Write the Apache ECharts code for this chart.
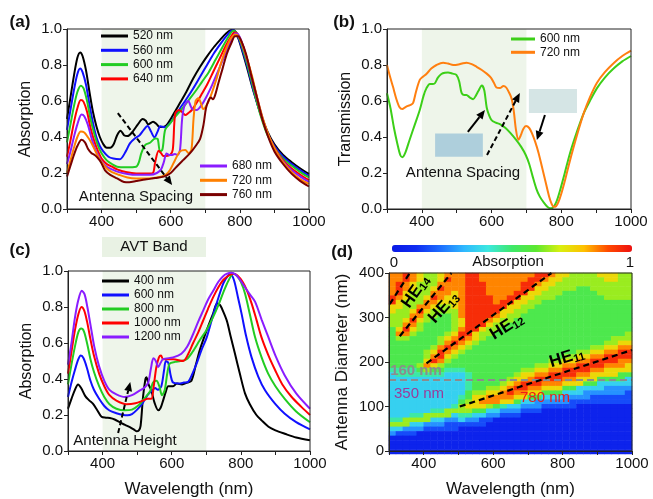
<!DOCTYPE html>
<html><head><meta charset="utf-8">
<script src="https://cdn.jsdelivr.net/npm/echarts/dist/echarts.min.js"></script>
<style>html,body{margin:0;padding:0;background:#fff}#c{width:653px;height:499px}</style>
</head><body><div id="c"></div>
<script>
const FONT = "'Liberation Sans', Arial, Helvetica, sans-serif";

// ---------- Panel (a): absorption vs wavelength for antenna spacing ----------
const aLabels = ['520 nm','560 nm','600 nm','640 nm','680 nm','720 nm','760 nm'];
const aColors = ['#000000','#1010ff','#22cc22','#ff0000','#8a1cff','#ff8000','#7a0000'];
const a520 = [[300,0.50],[310,0.62],[320,0.74],[330,0.84],[338,0.87],[345,0.85],[355,0.77],[365,0.65],[375,0.54],[385,0.46],[395,0.40],[405,0.36],[415,0.34],[425,0.34],[435,0.36],[445,0.41],[455,0.435],[465,0.41],[475,0.405],[490,0.43],[505,0.47],[519,0.50],[528,0.49],[535,0.47],[549,0.485],[560,0.47],[568,0.455],[578,0.455],[588,0.465],[600,0.50],[615,0.55],[627,0.59],[645,0.65],[665,0.725],[685,0.79],[704,0.845],[725,0.9],[743,0.94],[760,0.975],[776,0.995],[785,0.99],[795,0.95],[805,0.89],[820,0.79],[840,0.65],[860,0.53],[880,0.43],[900,0.36],[925,0.30],[950,0.26],[975,0.225],[1000,0.195]];
const a560 = [[300,0.44],[310,0.55],[320,0.66],[330,0.75],[338,0.78],[345,0.76],[355,0.69],[365,0.58],[375,0.48],[385,0.40],[395,0.35],[405,0.32],[420,0.29],[434,0.28],[453,0.277],[470,0.32],[482,0.365],[497,0.393],[510,0.41],[522,0.44],[533,0.461],[543,0.43],[553,0.398],[562,0.43],[570,0.46],[584,0.454],[595,0.47],[610,0.51],[627,0.56],[645,0.61],[665,0.67],[685,0.735],[705,0.80],[725,0.865],[745,0.92],[765,0.97],[779,0.995],[788,0.985],[798,0.94],[808,0.88],[822,0.79],[840,0.655],[860,0.525],[880,0.42],[900,0.35],[925,0.29],[950,0.25],[975,0.215],[1000,0.185]];
const a600 = [[300,0.37],[310,0.47],[320,0.57],[330,0.65],[340,0.685],[348,0.67],[358,0.6],[368,0.5],[380,0.41],[390,0.35],[400,0.31],[415,0.27],[430,0.25],[445,0.235],[472,0.232],[500,0.235],[508,0.26],[515,0.31],[526,0.355],[540,0.368],[555,0.392],[562,0.39],[569,0.32],[576,0.33],[584,0.44],[598,0.476],[612,0.51],[630,0.55],[650,0.6],[670,0.65],[690,0.705],[710,0.76],[730,0.83],[750,0.9],[768,0.96],[781,0.99],[790,0.98],[800,0.94],[812,0.87],[825,0.78],[842,0.65],[860,0.52],[880,0.41],[900,0.34],[925,0.28],[950,0.24],[975,0.205],[1000,0.175]];
const a640 = [[300,0.29],[310,0.38],[320,0.48],[330,0.56],[340,0.605],[348,0.595],[358,0.54],[368,0.45],[380,0.37],[390,0.32],[400,0.28],[415,0.25],[430,0.235],[445,0.22],[470,0.205],[500,0.197],[530,0.197],[548,0.2],[555,0.26],[565,0.324],[572,0.31],[579,0.294],[598,0.3],[606,0.33],[613,0.53],[624,0.55],[632,0.54],[642,0.522],[652,0.535],[661,0.55],[675,0.59],[690,0.64],[705,0.69],[720,0.75],[740,0.83],[760,0.91],[775,0.96],[784,0.98],[792,0.975],[802,0.94],[815,0.87],[828,0.78],[845,0.65],[862,0.52],[880,0.42],[900,0.34],[925,0.27],[950,0.225],[975,0.19],[1000,0.16]];
const a680 = [[300,0.25],[310,0.32],[320,0.40],[330,0.47],[342,0.525],[350,0.515],[360,0.47],[370,0.40],[380,0.34],[390,0.3],[400,0.265],[415,0.235],[430,0.22],[450,0.205],[475,0.195],[500,0.19],[540,0.19],[560,0.2],[572,0.22],[580,0.26],[588,0.309],[596,0.3],[603,0.3],[612,0.305],[620,0.3],[627,0.33],[633,0.5],[640,0.575],[651,0.6],[657,0.575],[663,0.554],[675,0.55],[690,0.58],[705,0.63],[720,0.69],[740,0.78],[760,0.87],[775,0.935],[787,0.975],[795,0.97],[805,0.93],[818,0.85],[832,0.75],[848,0.63],[865,0.51],[882,0.41],[900,0.335],[925,0.265],[950,0.215],[975,0.18],[1000,0.15]];
const a720 = [[300,0.2],[310,0.27],[320,0.34],[330,0.40],[340,0.43],[350,0.425],[360,0.4],[370,0.37],[380,0.33],[390,0.29],[400,0.26],[415,0.225],[430,0.205],[450,0.19],[475,0.175],[500,0.17],[530,0.17],[560,0.175],[585,0.19],[598,0.217],[612,0.27],[627,0.32],[642,0.328],[652,0.31],[660,0.33],[666,0.5],[672,0.6],[680,0.615],[687,0.59],[694,0.555],[705,0.58],[718,0.64],[732,0.72],[747,0.82],[762,0.9],[775,0.95],[788,0.97],[796,0.96],[806,0.92],[820,0.84],[835,0.74],[850,0.62],[867,0.5],[885,0.4],[905,0.32],[925,0.26],[950,0.205],[975,0.165],[1000,0.14]];
const a760 = [[300,0.18],[310,0.24],[320,0.3],[330,0.35],[342,0.385],[352,0.37],[362,0.33],[371,0.31],[380,0.3],[388,0.285],[398,0.26],[410,0.215],[425,0.19],[445,0.17],[465,0.15],[480,0.148],[500,0.155],[530,0.165],[555,0.172],[580,0.18],[600,0.2],[617,0.235],[635,0.27],[656,0.31],[672,0.35],[685,0.39],[695,0.47],[702,0.56],[710,0.605],[716,0.62],[722,0.61],[728,0.63],[738,0.7],[750,0.78],[762,0.86],[775,0.92],[786,0.96],[795,0.96],[805,0.93],[818,0.86],[832,0.75],[848,0.63],[865,0.5],[882,0.4],[900,0.32],[925,0.25],[950,0.195],[975,0.155],[1000,0.125]];

// ---------- Panel (b): transmission ----------
const bLabels = ['600 nm','720 nm'];
const bColors = ['#3ccf18','#ff7f10'];
const b600 = [[300,0.643],[310,0.56],[320,0.45],[330,0.36],[338,0.30],[344,0.288],[352,0.31],[365,0.385],[380,0.47],[394,0.55],[405,0.63],[413,0.67],[423,0.695],[432,0.695],[438,0.70],[446,0.73],[456,0.75],[466,0.757],[475,0.758],[488,0.752],[499,0.745],[507,0.71],[514,0.645],[521,0.634],[528,0.634],[537,0.62],[547,0.61],[555,0.63],[562,0.655],[572,0.686],[579,0.66],[586,0.564],[593,0.52],[600,0.494],[612,0.48],[625,0.47],[640,0.45],[655,0.42],[670,0.385],[685,0.345],[698,0.3],[708,0.25],[718,0.18],[728,0.115],[738,0.07],[750,0.035],[760,0.012],[768,0.004],[775,0.006],[785,0.035],[797,0.107],[810,0.2],[825,0.31],[845,0.43],[864,0.53],[882,0.6],[902,0.67],[925,0.73],[950,0.78],[975,0.82],[1000,0.85]];
const b720 = [[300,0.80],[308,0.74],[317,0.68],[327,0.61],[336,0.565],[344,0.555],[352,0.565],[360,0.573],[368,0.578],[375,0.59],[383,0.65],[394,0.717],[403,0.735],[413,0.75],[427,0.78],[442,0.80],[461,0.813],[475,0.808],[490,0.80],[505,0.803],[518,0.81],[528,0.813],[543,0.805],[557,0.79],[572,0.772],[586,0.752],[598,0.73],[607,0.7],[614,0.675],[624,0.672],[634,0.684],[642,0.675],[652,0.64],[658,0.61],[664,0.54],[670,0.44],[677,0.385],[684,0.41],[691,0.445],[699,0.461],[708,0.45],[716,0.42],[725,0.374],[735,0.31],[745,0.23],[755,0.15],[765,0.07],[772,0.03],[778,0.012],[785,0.015],[792,0.04],[800,0.085],[812,0.17],[825,0.27],[845,0.41],[864,0.53],[882,0.62],[902,0.7],[925,0.76],[950,0.81],[975,0.85],[1000,0.88]];

// ---------- Panel (c): absorption vs antenna height ----------
const cLabels = ['400 nm','600 nm','800 nm','1000 nm','1200 nm'];
const cColors = ['#000000','#1010ff','#22cc22','#ff0000','#8a1cff'];
const c400 = [[300,0.235],[310,0.29],[320,0.34],[329,0.37],[338,0.35],[350,0.305],[362,0.28],[372,0.263],[385,0.225],[397,0.19],[410,0.185],[421,0.183],[435,0.175],[450,0.16],[465,0.145],[479,0.133],[490,0.12],[498,0.11],[505,0.115],[510,0.14],[517,0.3],[524,0.4],[527,0.41],[533,0.37],[541,0.337],[550,0.27],[561,0.226],[568,0.24],[575,0.28],[583,0.33],[590,0.36],[604,0.36],[615,0.375],[630,0.37],[645,0.38],[657,0.39],[670,0.48],[681,0.56],[701,0.67],[720,0.765],[731,0.82],[740,0.81],[750,0.77],[760,0.72],[770,0.64],[783,0.54],[797,0.43],[812,0.32],[826,0.26],[845,0.2],[860,0.17],[880,0.135],[900,0.115],[927,0.096],[960,0.075],[1000,0.06]];
const c600 = [[300,0.30],[310,0.38],[320,0.45],[330,0.51],[337,0.53],[345,0.515],[355,0.46],[365,0.39],[375,0.34],[390,0.29],[405,0.25],[420,0.225],[440,0.21],[460,0.2],[472,0.198],[485,0.205],[500,0.23],[515,0.263],[530,0.31],[545,0.34],[552,0.35],[560,0.34],[570,0.36],[578,0.45],[583,0.50],[590,0.49],[597,0.42],[604,0.38],[620,0.375],[635,0.38],[648,0.385],[660,0.43],[672,0.485],[686,0.56],[701,0.63],[716,0.73],[730,0.82],[749,0.93],[763,0.975],[770,0.98],[780,0.95],[792,0.85],[802,0.763],[815,0.64],[831,0.52],[850,0.415],[870,0.337],[900,0.26],[927,0.207],[960,0.16],[1000,0.12]];
const c800 = [[300,0.37],[310,0.48],[320,0.58],[330,0.66],[338,0.68],[346,0.665],[355,0.6],[365,0.51],[375,0.44],[390,0.36],[405,0.3],[420,0.26],[440,0.235],[464,0.226],[485,0.23],[505,0.255],[520,0.29],[537,0.33],[546,0.38],[556,0.39],[564,0.36],[572,0.31],[580,0.34],[587,0.43],[594,0.485],[610,0.495],[625,0.5],[643,0.51],[660,0.55],[681,0.615],[700,0.67],[720,0.745],[735,0.81],[749,0.88],[765,0.95],[778,0.985],[788,0.975],[800,0.94],[812,0.875],[826,0.76],[841,0.633],[860,0.52],[879,0.43],[900,0.36],[927,0.29],[960,0.22],[1000,0.16]];
const c1000 = [[300,0.43],[310,0.55],[320,0.67],[330,0.76],[339,0.80],[347,0.78],[355,0.72],[365,0.62],[375,0.53],[390,0.43],[405,0.36],[420,0.31],[440,0.28],[469,0.26],[495,0.265],[517,0.28],[530,0.29],[541,0.29],[548,0.36],[555,0.46],[563,0.52],[569,0.53],[575,0.51],[585,0.51],[604,0.51],[633,0.5],[648,0.54],[662,0.6],[677,0.66],[691,0.725],[705,0.79],[720,0.855],[735,0.91],[749,0.95],[765,0.975],[778,0.985],[790,0.975],[805,0.94],[818,0.89],[831,0.82],[845,0.73],[860,0.63],[880,0.53],[899,0.45],[920,0.37],[947,0.3],[975,0.245],[1000,0.2]];
const c1200 = [[300,0.48],[310,0.6],[320,0.74],[330,0.84],[340,0.89],[348,0.87],[356,0.8],[366,0.69],[376,0.58],[390,0.47],[405,0.39],[420,0.34],[440,0.315],[464,0.3],[485,0.31],[508,0.337],[520,0.35],[532,0.38],[540,0.46],[547,0.515],[554,0.5],[561,0.467],[568,0.49],[575,0.51],[604,0.52],[628,0.54],[645,0.58],[662,0.65],[677,0.72],[691,0.78],[705,0.84],[720,0.89],[735,0.94],[748,0.97],[760,0.985],[772,0.99],[785,0.98],[798,0.95],[812,0.91],[826,0.87],[841,0.83],[860,0.73],[879,0.635],[900,0.53],[927,0.42],[960,0.32],[1000,0.235]];

// ---------- Panel (d): absorption map (wavelength x antenna diameter) ----------
const heatWavelengths = [310,330,350,370,390,410,430,450,470,490,510,530,550,570,590,610,630,650,670,690,710,730,750,770,790,810,830,850,870,890,910,930,950,970,990];
const heatDiameters = [5,15,25,35,45,55,65,75,85,95,105,115,125,135,145,155,165,175,185,195,205,215,225,235,245,255,265,275,285,295,305,315,325,335,345,355,365,375,385,395];
// one string per diameter row, top (395 nm) to bottom (5 nm); digit d -> absorption (d+0.5)/10
const heatRows = [
"8898766788 8998888888 8998776666 77766",
"8898766798 8998888888 9987766666 67766",
"8987666888 8999888889 9877666666 66666",
"8987667988 8999888889 9776666556 66666",
"8976668887 8999888899 7766655555 66666",
"9876679877 8999988997 7666555555 56666",
"9766688777 8999989977 6655555555 55555",
"7766887667 8999999776 6555555555 55555",
"7667976666 8999997766 5555555555 55555",
"6668866556 8999987665 5555555555 55555",
"6679765556 7999876655 5555555555 55555",
"6688655556 7999766555 5555555555 55555",
"5797655556 8997665555 5555555555 55555",
"5886555567 9976655555 5555555555 55556",
"5665555678 9876555555 5555555555 55666",
"5555555689 8765555555 5555555555 56677",
"5555556898 7655555555 5555555556 67788",
"5555567987 6555555555 5555555667 78899",
"5555568976 5555555555 5555566778 89999",
"5555579865 5555555555 5556677889 99988",
"5555687655 5555555555 5667788999 98887",
"4444565544 4555555556 6778899998 87777",
"3444444433 3455555567 7889999887 77755",
"3333333333 3455555677 8999988777 55553",
"3333333333 3455556789 9988877755 33333",
"3333333333 3455667899 8877755333 32222",
"3333333333 3566778988 7755533322 22221",
"3333333333 4577888877 5533322221 11111",
"3333333333 5678887753 3222221111 11111",
"3333333334 6777654332 2211111000 00000",
"3333334466 6655332221 1100000000 00000",
"3334466663 4433221110 0000000000 00000",
"4466663322 3221100000 0000000000 00000",
"6663322211 1111000000 0000000000 00000",
"3322211111 0000000000 0000000000 00000",
"2111000000 0000000000 0000000000 00000",
"0000000000 0000000000 0000000000 00000",
"0000000000 0000000000 0000000000 00000",
"0000000000 0000000000 0000000000 00000",
"0000000000 0000000000 0000000000 00000"
];
const he14 = [[302,330],[360,400]];
const he13 = [[331,258],[480,400]];
const he12 = [[408,197],[768,400]];
const he11 = [[504,100],[1000,227]];
const mapColors = ['#0a1ae6','#0f2cf2','#1c6cff','#2fb8ff','#3ce8e0','#3ee86a','#5ce830','#d8f010','#ffc000','#ff4a00','#ee1010'];

// ---------- build ----------
const chart = echarts.init(document.getElementById('c'), null, {renderer:'canvas'});

function wlAxis(gi, name, z) {
  return {type:'value', gridIndex:gi, min:300, max:1000, interval:100, z: z||0,
    axisLine:{show:true, onZero:false, lineStyle:{color:'#222', width:1}},
    axisTick:{show:true, length:4, lineStyle:{color:'#222'}},
    splitLine:{show:false},
    axisLabel:{fontSize:15, color:'#111', fontFamily:FONT, margin:5, formatter: v => (v % 200 === 0 ? String(v) : '')},
    name: name || '', nameLocation:'middle', nameGap:30,
    nameTextStyle:{fontSize:17, fontFamily:FONT, color:'#111'}};
}
function fracAxis(gi, name) {
  return {type:'value', gridIndex:gi, min:0, max:1, interval:0.2,
    axisLine:{show:true, onZero:false, lineStyle:{color:'#222', width:1}},
    axisTick:{show:true, length:4, lineStyle:{color:'#222'}},
    splitLine:{show:false},
    axisLabel:{fontSize:15, color:'#111', fontFamily:FONT, margin:5, formatter: v => v.toFixed(1)},
    name: name, nameLocation:'middle', nameGap:33,
    nameTextStyle:{fontSize:16, fontFamily:FONT, color:'#111'}};
}
const gridBox = {show:true, borderColor:'#222', borderWidth:1, backgroundColor:'transparent', z:5};

const grids = [
  Object.assign({left:67, top:29, width:242, height:180}, gridBox),
  Object.assign({left:387, top:29, width:244, height:180}, gridBox),
  Object.assign({left:68, top:271, width:242, height:180}, gridBox),
  Object.assign({left:389, top:273, width:243, height:181}, gridBox, {z:10}),
  {left:389, top:273, width:243, height:181, show:false}
];
const xAxes = [wlAxis(0), wlAxis(1), wlAxis(2,'Wavelength (nm)'), wlAxis(3,'Wavelength (nm)',10),
  {type:'category', gridIndex:4, data:heatWavelengths, show:false}];
const dY = fracAxis(3, 'Antenna Diameter (nm)');
Object.assign(dY, {min:0, max:400, interval:100, z:10, nameGap:38,
  nameTextStyle:{fontSize:17, fontFamily:FONT, color:'#111'},
  axisLabel:{fontSize:15, color:'#111', fontFamily:FONT, margin:5}});
const yAxes = [fracAxis(0,'Absorption'), fracAxis(1,'Transmission'), fracAxis(2,'Absorption'), dY,
  {type:'category', gridIndex:4, data:heatDiameters, show:false}];

const series = [];
function line(name, data, color, gi) {
  series.push({name, type:'line', xAxisIndex:gi, yAxisIndex:gi, data, symbol:'none', showSymbol:false,
    smooth:0.3, lineStyle:{color, width:2}, itemStyle:{color}, z:3, silent:true});
}
function shade(gi) {
  series.push({type:'line', xAxisIndex:gi, yAxisIndex:gi, data:[], z:1, silent:true,
    markArea:{silent:true, itemStyle:{color:'#eef5ea'}, data:[[{xAxis:400},{xAxis:700}]]}});
}
shade(0); shade(1); shade(2);
const aData = [a520,a560,a600,a640,a680,a720,a760];
aLabels.forEach((l,i) => line('a:'+l, aData[i], aColors[i], 0));
const bData = [b600,b720];
bLabels.forEach((l,i) => line('b:'+l, bData[i], bColors[i], 1));
const cData = [c400,c600,c800,c1000,c1200];
cLabels.forEach((l,i) => line('c:'+l, cData[i], cColors[i], 2));
// small structure pictures in (b)
series.push({type:'line', xAxisIndex:1, yAxisIndex:1, data:[], z:2, silent:true,
  markArea:{silent:true, data:[
    [{coord:[438,0.42], itemStyle:{color:'#aecfdc'}},{coord:[575,0.29]}],
    [{coord:[707,0.667], itemStyle:{color:'#d5e5e5'}},{coord:[845,0.533]}]]}});

// heatmap
const heatData = [];
heatRows.forEach((row, r) => {
  const s = row.replace(/ /g,'');
  const yi = heatDiameters.length - 1 - r;
  for (let xi = 0; xi < s.length; xi++) heatData.push([xi, yi, (Number(s[xi]) + 0.5) / 10]);
});
const heatIdx = series.length;
series.push({type:'heatmap', xAxisIndex:4, yAxisIndex:4, data:heatData, z:1, silent:true, progressive:0});
// mode lines + 160 nm line
[he14, he13, he12, he11].forEach((d,i) => series.push({type:'line', xAxisIndex:3, yAxisIndex:3, data:d,
  symbol:'none', z:6, silent:true, lineStyle:{color:'#000', width:2.2, type:[6,4]},
  markLine: i === 0 ? {silent:true, symbol:'none', label:{show:false},
    lineStyle:{color:'#8c8c8c', type:[7,4], width:2}, data:[{yAxis:160}]} : undefined}));

function legend(names, left, top, gap, iw) {
  return {data:names, left, top, orient:'vertical', padding:0, itemGap:gap, itemWidth:iw, itemHeight:3,
    icon:'rect', selectedMode:false, formatter: n => n.split(':')[1],
    textStyle:{fontSize:12, fontFamily:FONT, color:'#111', lineHeight:14}};
}

const option = {
  animation:false,
  grid: grids, xAxis: xAxes, yAxis: yAxes, series,
  legend: [
    legend(aLabels.slice(0,4).map(l=>'a:'+l), 101, 29, 0.3, 27),
    legend(aLabels.slice(4).map(l=>'a:'+l), 200, 159, 0.3, 27),
    legend(bLabels.map(l=>'b:'+l), 511, 32, -0.7, 24),
    legend(cLabels.map(l=>'c:'+l), 102, 274, 0, 27)
  ],
  visualMap: {type:'continuous', seriesIndex:heatIdx, min:0, max:1, orient:'horizontal',
    left:392, top:245, itemWidth:7, itemHeight:240, padding:0, calculable:false, hoverLink:false,
    inRange:{color:mapColors}, textStyle:{fontSize:0}}
};
chart.setOption(option);

// ---------- annotations ----------
function arrow(gi, p0, p1, dashed) {
  const a = chart.convertToPixel({gridIndex:gi}, p0), b = chart.convertToPixel({gridIndex:gi}, p1);
  const ang = Math.atan2(b[1]-a[1], b[0]-a[0]), L = 9, W = 4;
  const base = [b[0]-L*Math.cos(ang), b[1]-L*Math.sin(ang)];
  const lft = [base[0]+W*Math.sin(ang), base[1]-W*Math.cos(ang)];
  const rgt = [base[0]-W*Math.sin(ang), base[1]+W*Math.cos(ang)];
  return [{type:'line', z:50, silent:true, shape:{x1:a[0],y1:a[1],x2:base[0],y2:base[1]},
            style:{stroke:'#000', lineWidth:2, lineDash: dashed ? [5,3] : null}},
          {type:'polygon', z:50, silent:true, shape:{points:[b,lft,rgt]}, style:{fill:'#000'}}];
}
function T(text, x, y, o) {
  return Object.assign({type:'text', x, y, z:60, silent:true,
    style:Object.assign({text, fontFamily:FONT, fontSize:15, fill:'#111', align:'center', verticalAlign:'middle'}, (o && o.style) || {})},
    o && o.rotation !== undefined ? {rotation:o.rotation} : {});
}
function HE(sub, x, y, deg) {
  return {type:'text', x, y, z:60, silent:true, rotation: deg*Math.PI/180,
    style:{text:'{b|HE}{s|'+sub+'}', align:'center', verticalAlign:'middle',
      rich:{b:{fontFamily:FONT, fontSize:17, fontWeight:'bold', fill:'#000', lineHeight:18, verticalAlign:'top'},
            s:{fontFamily:FONT, fontSize:11, fontWeight:'bold', fill:'#000', lineHeight:12, verticalAlign:'bottom', padding:[8,0,0,0]}}}};
}
const g = [];
g.push(T('(a)', 20, 22, {style:{fontWeight:'bold', fontSize:17}}));
g.push(T('(b)', 344, 22, {style:{fontWeight:'bold', fontSize:17}}));
g.push(T('(c)', 20, 250, {style:{fontWeight:'bold', fontSize:17}}));
g.push(T('(d)', 342, 252, {style:{fontWeight:'bold', fontSize:17}}));
g.push({type:'rect', z:40, silent:true, shape:{x:102, y:237, width:104, height:20}, style:{fill:'#e9f2e4'}});
g.push(T('AVT Band', 154, 247));
g.push(T('Antenna Spacing', 136, 197));
g.push(T('Antenna Spacing', 463, 173));
g.push(T('Antenna Height', 125, 441));
g.push(...arrow(0, [447,0.533], [604,0.133], true));
g.push(...arrow(1, [532,0.428], [581,0.55], false));
g.push(...arrow(1, [587,0.30], [681,0.644], true));
g.push(...arrow(1, [753,0.522], [730,0.383], false));
g.push(...arrow(2, [445,0.10], [480,0.383], true));
g.push(HE('14', 416, 292, 55));
g.push(HE('13', 444, 308, 48));
g.push(HE('12', 507, 327, 32));
g.push(HE('11', 567, 358, 17));
g.push(T('160 nm', 416, 371, {style:{fill:'#8c8c8c', fontWeight:'bold'}}));
g.push(T('350 nm', 419, 394, {style:{fill:'#9b3b9b'}}));
g.push(T('780 nm', 545, 398, {style:{fill:'#ee1a1a'}}));
g.push(T('0', 394, 263));
g.push(T('Absorption', 508, 262));
g.push(T('1', 630, 263));
chart.setOption({graphic:g});
</script>
</body></html>
